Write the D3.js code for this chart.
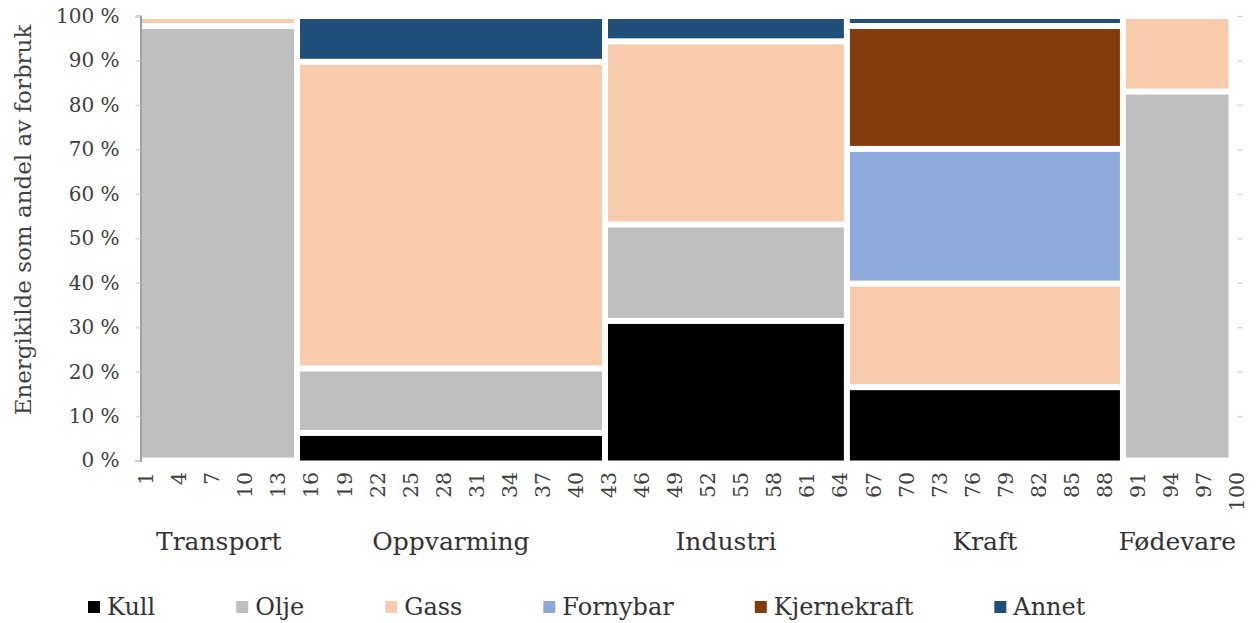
<!DOCTYPE html>
<html>
<head>
<meta charset="utf-8">
<script src="https://cdn.jsdelivr.net/npm/d3@7"></script>
<style>
  html, body { margin: 0; padding: 0; background: #fff; }
  svg { display: block; }
  text { font-family: "DejaVu Serif", "Liberation Serif", serif; }
</style>
</head>
<body>
<svg id="chart" width="1258" height="623"></svg>
<script>
// ---- data ----
const sectors = ["Transport", "Oppvarming", "Industri", "Kraft", "Fødevare"];
const sectorWidths = [14.2, 27.95, 21.95, 25.05, 9.85]; // share of total consumption (x units)
const sources = ["Kull", "Olje", "Gass", "Fornybar", "Kjernekraft", "Annet"];
const kull        = [0,     6.2,  31.4, 16.5,  0];
const olje        = [97.75, 14.5, 21.7, 0,     83.0];
const gass        = [2.25,  69.0, 41.2, 23.3,  17.0];
const fornybar    = [0,     0,    0,    30.3,  0];
const kjernekraft = [0,     0,    0,    27.65, 0];
const annet       = [0,     10.3, 5.7,  2.25,  0];
const colors = ["#000000", "#bfbfbf", "#f8cbad", "#8eaadb", "#843c0c", "#1f4e79"];
const xTickValues = [1,4,7,10,13,16,19,22,25,28,31,34,37,40,43,46,49,52,55,58,61,64,67,70,73,76,79,82,85,88,91,94,97,100];
const yTickValues = [0,10,20,30,40,50,60,70,80,90,100];
const yTitle = "Energikilde som andel av forbruk";

// ---- build table ----
const seriesValues = [kull, olje, gass, fornybar, kjernekraft, annet];
let cum = 0.5;
const table = sectors.map((s, i) => {
  const row = { sector: s, x0: cum, x1: cum + sectorWidths[i] };
  cum += sectorWidths[i];
  sources.forEach((src, j) => row[src] = seriesValues[j][i]);
  return row;
});
const stacked = d3.stack().keys(sources)(table);

// ---- layout ----
const svg = d3.select("#chart");
const x = d3.scaleLinear().domain([0.5, 100.5]).range([140.5, 1242.5]);
const y = d3.scaleLinear().domain([0, 100]).range([460.5, 16]);
const color = d3.scaleOrdinal().domain(sources).range(colors);
const gap = 3;

// bars
const g = svg.append("g");
stacked.forEach((layer, si) => {
  g.selectAll(null)
    .data(layer.filter(d => d[1] - d[0] > 0))
    .join("rect")
    .attr("x", d => d.data.x0 === 0.5 ? x(d.data.x0) : x(d.data.x0) + gap)
    .attr("width", d => (x(d.data.x1) - gap) - (d.data.x0 === 0.5 ? x(d.data.x0) : x(d.data.x0) + gap))
    .attr("y", d => y(d[1]) + gap)
    .attr("height", d => {
      const bottom = (si === 0 && d[0] === 0) ? y(0) : y(d[0]) - gap;
      return bottom - (y(d[1]) + gap);
    })
    .attr("fill", color(layer.key));
});

// y axis
const yAxis = d3.axisLeft(y).tickValues(yTickValues).tickSize(5).tickPadding(16)
  .tickFormat(d => d + " %");
const ya = svg.append("g").attr("transform", "translate(140.5,0)").call(yAxis);
ya.select(".domain").attr("stroke", "#a0a0a0").attr("stroke-width", 2);
ya.selectAll(".tick line").attr("stroke", "#d9d9d9").attr("stroke-width", 1.5);
ya.selectAll(".tick text").attr("font-size", 20).attr("fill", "#404040")
  .attr("font-family", '"DejaVu Serif", serif');

// right side small ticks
const yr = svg.append("g").attr("transform", "translate(1242.5,0)")
  .call(d3.axisLeft(y).tickValues(yTickValues.filter(v => v > 0)).tickSize(5).tickFormat(""));
yr.select(".domain").remove();
yr.selectAll(".tick line").attr("stroke", "#d9d9d9").attr("stroke-width", 1.5);

// x tick labels (rotated)
svg.append("g").selectAll("text")
  .data(xTickValues)
  .join("text")
  .attr("transform", d => `translate(${x(d)},472) rotate(-90)`)
  .attr("text-anchor", "end")
  .attr("dy", "0.35em")
  .attr("font-size", 20.5)
  .attr("fill", "#404040")
  .text(d => d);

// category labels
svg.append("g").selectAll("text")
  .data(table)
  .join("text")
  .attr("x", d => x((d.x0 + d.x1) / 2))
  .attr("y", 550)
  .attr("text-anchor", "middle")
  .attr("font-size", 25)
  .attr("fill", "#333333")
  .text(d => d.sector);

// y title
svg.append("text")
  .attr("transform", "translate(31,220) rotate(-90)")
  .attr("text-anchor", "middle")
  .attr("font-size", 23)
  .attr("fill", "#404040")
  .text(yTitle);

// legend
const leg = svg.append("g");
let lx = 88;
sources.forEach((s, i) => {
  const item = leg.append("g").attr("transform", `translate(${lx},607)`);
  item.append("rect").attr("x", 0).attr("y", -6).attr("width", 12).attr("height", 12).attr("fill", colors[i]);
  const t = item.append("text").attr("x", 19).attr("y", 0).attr("dy", "0.35em")
    .attr("font-size", 24).attr("fill", "#333333").text(s);
  lx += 19 + t.node().getComputedTextLength() + 81;
});
</script>
</body>
</html>
